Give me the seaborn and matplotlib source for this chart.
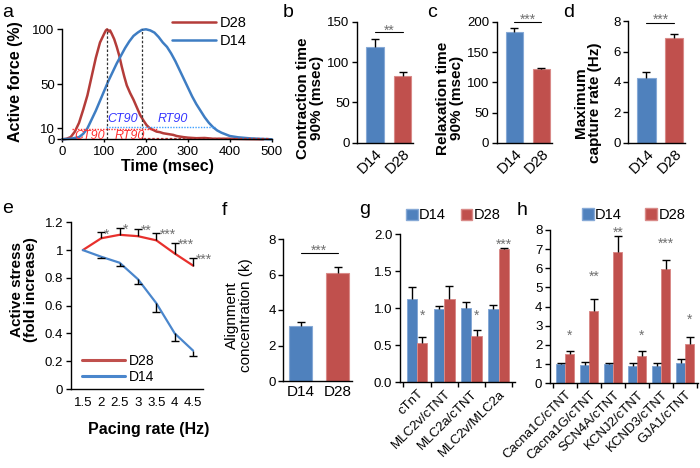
import numpy as np
import pandas as pd
import matplotlib
matplotlib.use('Agg')
import matplotlib.pyplot as plt
import seaborn as sns
from matplotlib.lines import Line2D
from matplotlib.patches import Patch
from matplotlib.ticker import FuncFormatter, FixedLocator

# ------------------------------------------------------------------ data
# panel a: normalized force traces
time_d28 = [0, 10, 20, 30, 40, 50, 60, 70, 80, 90, 100, 104, 107, 111, 114, 118, 124, 130, 136,
            142, 148, 154, 162, 170, 178, 186, 194, 201, 209, 217, 225, 233, 241, 249, 257, 265,
            273, 281, 289, 300, 320, 340, 360, 400, 440, 480]
force_d28 = [0, 0.5, 2, 7, 15, 27, 40, 57, 74, 88, 96, 99, 100, 98, 99, 96, 91, 84, 76,
             66, 57, 49, 42, 36, 29, 22, 17, 13, 10, 8.5, 7, 6.5, 5.5, 5, 4.5, 4,
             3, 2.5, 2, 1.5, 1, 1.2, 0.5, 0.5, 0.2, 0]
time_d14 = [0, 20, 40, 50, 60, 70, 80, 90, 100, 110, 120, 130, 140, 150, 160, 170, 180, 190,
            200, 210, 220, 230, 240, 250, 260, 270, 280, 290, 300, 310, 320, 330, 340, 350,
            360, 370, 380, 400, 420, 450, 480, 500]
force_d14 = [0, 0.5, 2, 5, 10, 18, 26, 35, 44, 53, 61, 69, 76, 83, 89, 94, 97, 99.5,
             100, 99, 97, 93, 88, 84, 78, 71, 63, 55, 47, 39, 32, 26, 20, 15,
             11, 8, 6, 3, 1.8, 0.8, 0.3, 0]
a_ticks_y = [0, 10, 50, 100]

days = ['D14', 'D28']
# panel b
b_vals = [119.3, 82.9]
b_err = [9.6, 5.3]
# panel c
c_vals = [183.9, 121.6]
c_err = [6.7, 2.7]
# panel d
d_vals = [4.26, 6.88]
d_err = [0.42, 0.30]
# panel f
f_vals = [3.12, 6.10]
f_err = [0.22, 0.34]

# panel e
pace = [1.5, 2, 2.5, 3, 3.5, 4, 4.5]
e_d28 = [1.0, 1.085, 1.11, 1.10, 1.07, 0.975, 0.888]
e_d28_err = [0, 0.045, 0.05, 0.055, 0.055, 0.078, 0.057]
e_d14 = [1.0, 0.952, 0.909, 0.79, 0.617, 0.40, 0.276]
e_d14_err = [0, 0.012, 0.021, 0.036, 0.065, 0.052, 0.036]
e_stars = ['', '*', '*', '**', '***', '***', '***']

# panel g
g_genes = ['cTnT', 'MLC2v/cTNT', 'MLC2a/cTNT', 'MLC2v/MLC2a']
g_d14 = [1.126, 0.99, 1.008, 0.99]
g_d14_err = [0.158, 0.04, 0.082, 0.055]
g_d28 = [0.535, 1.126, 0.626, 1.80]
g_d28_err = [0.073, 0.174, 0.081, 0.012]
g_stars = ['*', '', '*', '***']
g_star_y = [0.94, 0, 0.94, 1.91]

# panel h
h_genes = ['Cacna1C/cTNT', 'Cacna1G/cTNT', 'SCN4A/cTNT', 'KCNJ2/cTNT', 'KCND3/cTNT', 'GJA1/cTNT']
h_d14 = [0.99, 0.94, 0.99, 0.91, 0.91, 1.06]
h_d14_err = [0.05, 0.14, 0.07, 0.12, 0.12, 0.19]
h_d28 = [1.52, 3.76, 6.85, 1.43, 5.96, 2.04]
h_d28_err = [0.17, 0.61, 0.85, 0.26, 0.47, 0.35]
h_stars = ['*', '**', '**', '*', '***', '*']
h_star_y = [2.65, 5.74, 8.04, 2.65, 7.44, 3.47]

# ------------------------------------------------------------------ style
sns.set_style('ticks', {'axes.edgecolor': 'black', 'xtick.color': 'black', 'ytick.color': 'black',
                        'text.color': 'black', 'axes.labelcolor': 'black'})
plt.rcParams['font.family'] = ['Liberation Sans', 'DejaVu Sans']

BLUE = '#4f81bd'
RED = '#c0504d'
BLUE_EDGE = '#86a9d6'
RED_EDGE = '#d98a88'
STAR = '#707070'
STAR_FS = 10
STAR_DROP = -5.4
TICK_FS = 9.5
LAB_FS = 11
CAP = 2.6

fig = plt.figure(figsize=(7, 4.68), dpi=100)


def add_ax(l, r, t, b):
    return fig.add_axes([l / 700, 1 - b / 468, (r - l) / 700, (b - t) / 468])


def base_style(ax):
    for s in ['top', 'right']:
        ax.spines[s].set_visible(False)
    ax.spines['left'].set_linewidth(1.0)
    ax.spines['bottom'].set_linewidth(1.0)
    ax.tick_params(axis='y', direction='out', length=3.5, width=1, labelsize=TICK_FS, pad=2)
    ax.tick_params(axis='x', labelsize=TICK_FS)


def one_sided(ax, xs, ys, errs, up=True, capsize=CAP):
    """Error bars drawn only on one side, with a single cap at the far end."""
    if up:
        yerr = [np.zeros(len(errs)), errs]
    else:
        yerr = [errs, np.zeros(len(errs))]
    _, caps, _ = ax.errorbar(xs, ys, yerr=yerr, fmt='none', ecolor='black', elinewidth=1.0,
                             capsize=capsize, capthick=1.0, zorder=3, clip_on=False)
    if len(caps) == 2:
        caps[0 if up else 1].set_visible(False)


def bar_errors(ax, bars, errs):
    xs = [p.get_x() + p.get_width() / 2 for p in bars]
    ys = [p.get_height() for p in bars]
    one_sided(ax, xs, ys, errs, up=True)


def two_bar_panel(ax, vals, errs, ylim, yticks, sig, line_y, star_y, width=0.65, rot=True):
    sns.barplot(x=days, y=vals, hue=days, palette=[BLUE, RED], saturation=1, width=width,
                legend=False, errorbar=None, ax=ax)
    bars = sorted(ax.patches, key=lambda p: p.get_x())
    for p, ec in zip(bars, [BLUE_EDGE, RED_EDGE]):
        p.set_edgecolor(ec)
        p.set_linewidth(0.8)
    bar_errors(ax, bars, errs)
    base_style(ax)
    ax.set_ylim(*ylim)
    ax.set_yticks(yticks)
    ax.set_xlabel('')
    ax.set_ylabel('')
    ax.tick_params(axis='x', length=0, pad=3)
    ax.set_xticks([0, 1])
    if rot:
        ax.set_xticklabels(days, rotation=45, ha='right', rotation_mode='anchor', fontsize=11)
    else:
        ax.set_xticklabels(days, fontsize=11)
    ax.plot([0, 1], [line_y, line_y], color='black', lw=0.8, clip_on=False)
    ax.annotate(sig, xy=(0.5, star_y), xytext=(0, STAR_DROP), textcoords='offset points',
                ha='center', va='baseline', fontsize=STAR_FS, color=STAR, annotation_clip=False)


# ------------------------------------------------------------------ panel a
axa = add_ax(62.3, 271.7, 29.3, 139.3)
dfa = pd.concat([
    pd.DataFrame({'t': time_d28, 'f': force_d28, 'day': 'D28'}),
    pd.DataFrame({'t': time_d14, 'f': force_d14, 'day': 'D14'}),
])
sns.lineplot(data=dfa, x='t', y='f', hue='day', hue_order=['D28', 'D14'],
             palette={'D28': '#b43c39', 'D14': '#3e7dc3'}, lw=1.8, estimator=None, sort=False, ax=axa)
for ln in axa.lines:
    ln.set_clip_on(False)
axa.plot([107, 107], [0, 100], ls=(0, (2, 1.5)), color='#333333', lw=0.9)
axa.plot([190, 190], [0, 100], ls=(0, (2, 1.5)), color='#333333', lw=0.9)
axa.plot([105, 365], [11.5, 11.5], ls=(0, (1, 1)), color='#3fa0ff', lw=1.0)
axa.plot([22, 225], [9, 9], ls=(0, (1, 1)), color='#ff3030', lw=1.0)
axa.plot([193, 490], [1.2, 1.2], ls=(0, (2, 1.5)), color='#d04040', lw=0.9)
axa.text(143, 18.5, 'CT90', color='#3535ff', style='italic', ha='center', va='center', fontsize=9)
axa.text(263, 18.5, 'RT90', color='#3535ff', style='italic', ha='center', va='center', fontsize=9)
axa.text(66, 3, 'CT90', color='#ff3030', style='italic', ha='center', va='center', fontsize=9)
axa.text(161, 3, 'RT90', color='#ff3030', style='italic', ha='center', va='center', fontsize=9)
base_style(axa)
axa.set_xlim(0, 500)
axa.set_ylim(0, 100)
axa.set_yticks(a_ticks_y)
axa.set_xticks([0, 100, 200, 300, 400, 500])
axa.tick_params(axis='x', direction='out', length=2.5, width=1, pad=2)
axa.set_xlabel('Time (msec)', fontsize=11.5, fontweight='bold')
axa.set_ylabel('Active force (%)', fontsize=11.5, fontweight='bold')
axa.xaxis.set_label_coords(0.5, -0.175)
axa.yaxis.set_label_coords(-0.19, 0.52)
h, l = axa.get_legend_handles_labels()
axa.legend(h, l, frameon=False, loc='upper right', bbox_to_anchor=(247 / 700, 1 - 16 / 468),
           bbox_transform=fig.transFigure, handlelength=3.0, handletextpad=0.3, labelspacing=0.25,
           borderpad=0, borderaxespad=0, fontsize=10.5)

# ------------------------------------------------------------------ panels b, c, d
axb = add_ax(357.3, 413, 22, 142.7)
two_bar_panel(axb, b_vals, b_err, (0, 150), [0, 50, 100, 150], '**', 137, 144)
axb.set_xlim(-0.65, 1.38)
axb.set_ylabel('Contraction time\n90% (msec)', fontsize=LAB_FS, fontweight='bold', linespacing=1.0)
axb.yaxis.set_label_coords(-0.6, 0.37)

axc = add_ax(496.7, 551.7, 22, 142.7)
two_bar_panel(axc, c_vals, c_err, (0, 200), [0, 50, 100, 150, 200], '***', 200, 210)
axc.set_xlim(-0.65, 1.38)
axc.set_ylabel('Relaxation time\n90% (msec)', fontsize=LAB_FS, fontweight='bold', linespacing=1.0)
axc.yaxis.set_label_coords(-0.6, 0.37)

axd = add_ax(628.3, 685, 21.3, 142.7)
two_bar_panel(axd, d_vals, d_err, (0, 8), [0, 2, 4, 6, 8], '***', 7.9, 8.35)
axd.set_xlim(-0.65, 1.38)
axd.set_ylabel('Maximum\ncapture rate (Hz)', fontsize=LAB_FS, fontweight='bold', linespacing=1.0)
axd.yaxis.set_label_coords(-0.46, 0.33)

# ------------------------------------------------------------------ panel e
axe = add_ax(70.7, 202.7, 222.3, 389)
dfe = pd.concat([
    pd.DataFrame({'rate': pace, 'stress': e_d28, 'day': 'D28'}),
    pd.DataFrame({'rate': pace, 'stress': e_d14, 'day': 'D14'}),
])
sns.lineplot(data=dfe, x='rate', y='stress', hue='day', hue_order=['D28', 'D14'],
             palette={'D28': '#e8302c', 'D14': '#4a86cc'}, lw=1.6, estimator=None, ax=axe, legend=False)
idx = [i for i, e in enumerate(e_d28_err) if e > 0]
one_sided(axe, [pace[i] for i in idx], [e_d28[i] for i in idx], [e_d28_err[i] for i in idx], up=True)
idx = [i for i, e in enumerate(e_d14_err) if e > 0]
one_sided(axe, [pace[i] for i in idx], [e_d14[i] for i in idx], [e_d14_err[i] for i in idx], up=False)
for xv, yv, er, s in zip(pace, e_d28, e_d28_err, e_stars):
    if s:
        axe.annotate(s, xy=(xv, yv + er), xytext=(2.2, -4.6), textcoords='offset points',
                     ha='left', va='baseline', fontsize=STAR_FS, color=STAR, annotation_clip=False)
base_style(axe)
axe.set_xlim(1.17, 4.76)
axe.set_ylim(0, 1.2)
axe.set_xticks(pace)
axe.set_yticks([0, 0.2, 0.4, 0.6, 0.8, 1.0, 1.2])
fmt = FuncFormatter(lambda v, p: '%g' % round(v, 2))
axe.xaxis.set_major_formatter(fmt)
axe.yaxis.set_major_formatter(fmt)
axe.tick_params(axis='x', length=0, pad=6, labelsize=9.5)
axe.set_xlabel('Pacing rate (Hz)', fontsize=11.5, fontweight='bold')
axe.set_ylabel('Active stress\n(fold increase)', fontsize=LAB_FS, fontweight='bold', linespacing=1.0)
axe.xaxis.set_label_coords(0.593, -0.2)
axe.yaxis.set_label_coords(-0.245, 0.594)
axe.legend([Line2D([], [], color=RED, lw=2.2), Line2D([], [], color='#4a86cc', lw=2.2)],
           ['D28', 'D14'], frameon=False, loc='center left',
           bbox_to_anchor=(82 / 700, 1 - 369 / 468), bbox_transform=fig.transFigure,
           handlelength=3.1, handletextpad=0.3, labelspacing=0.15, borderpad=0, borderaxespad=0,
           fontsize=10)

# ------------------------------------------------------------------ panel f
axf = add_ax(283.3, 352.3, 239, 381)
two_bar_panel(axf, f_vals, f_err, (0, 8), [0, 2, 4, 6, 8], '***', 7.2, 7.55, width=0.62, rot=False)
axf.set_xlim(-0.47, 1.39)
axf.set_ylabel('Alignment\nconcentration (k)', fontsize=LAB_FS, linespacing=1.0)
axf.yaxis.set_label_coords(-0.44, 0.465)


# ------------------------------------------------------------------ panels g, h
def grouped_panel(ax, genes, v14, e14, v28, e28, stars, star_y, ylim, yticks, xlim, yfmt):
    df = pd.DataFrame({'gene': genes * 2, 'val': v14 + v28, 'day': ['D14'] * len(genes) + ['D28'] * len(genes)})
    sns.barplot(data=df, x='gene', y='val', hue='day', order=genes, hue_order=days,
                palette=[BLUE, RED], saturation=1, width=0.76, errorbar=None, ax=ax, legend=False)
    b14 = list(ax.containers[0])
    b28 = list(ax.containers[1])
    for p in b14:
        p.set_edgecolor(BLUE_EDGE); p.set_linewidth(0.7)
    for p in b28:
        p.set_edgecolor(RED_EDGE); p.set_linewidth(0.7)
    bar_errors(ax, b14, e14)
    bar_errors(ax, b28, e28)
    for p, s, sy in zip(b28, stars, star_y):
        if s:
            ax.annotate(s, xy=(p.get_x() + p.get_width() / 2, sy), xytext=(0, STAR_DROP),
                        textcoords='offset points', ha='center', va='baseline', fontsize=STAR_FS,
                        color=STAR, annotation_clip=False)
    base_style(ax)
    ax.set_ylim(*ylim)
    ax.set_yticks(yticks)
    ax.yaxis.set_major_formatter(FuncFormatter(lambda v, p: yfmt % v))
    ax.set_xlim(*xlim)
    ax.set_xlabel('')
    ax.set_ylabel('')
    ax.set_xticks(range(len(genes)))
    ax.set_xticklabels(genes, rotation=45, ha='right', rotation_mode='anchor', fontsize=9.5)
    ax.tick_params(axis='x', which='major', length=0, pad=4)
    ax.xaxis.set_minor_locator(FixedLocator([i - 0.5 for i in range(len(genes) + 1)]))
    ax.tick_params(axis='x', which='minor', direction='out', length=3.5, width=1)


axg = add_ax(400, 515, 234.3, 382.3)
grouped_panel(axg, g_genes, g_d14, g_d14_err, g_d28, g_d28_err, g_stars, g_star_y,
              (0, 2.0), [0, 0.5, 1.0, 1.5, 2.0], (-0.62, 3.6), '%.1f')
axg.legend([Patch(facecolor=BLUE, edgecolor=BLUE_EDGE), Patch(facecolor=RED, edgecolor=RED_EDGE)],
           days, ncol=2, frameon=False, loc='center left',
           bbox_to_anchor=(406 / 700, 1 - 215.5 / 468), bbox_transform=fig.transFigure,
           handlelength=0.8, handleheight=0.8, handletextpad=0.1, columnspacing=1.0,
           borderpad=0, borderaxespad=0, fontsize=10.5)

axh = add_ax(550, 697.7, 230, 383)
grouped_panel(axh, h_genes, h_d14, h_d14_err, h_d28, h_d28_err, h_stars, h_star_y,
              (0, 8), list(range(9)), (-0.64, 5.52), '%d')
axh.legend([Patch(facecolor=BLUE, edgecolor=BLUE_EDGE), Patch(facecolor=RED, edgecolor=RED_EDGE)],
           days, ncol=2, frameon=False, loc='center left',
           bbox_to_anchor=(582 / 700, 1 - 215 / 468), bbox_transform=fig.transFigure,
           handlelength=0.8, handleheight=0.8, handletextpad=0.1, columnspacing=1.6,
           borderpad=0, borderaxespad=0, fontsize=10.5)

# ------------------------------------------------------------------ panel letters
for letter, xp, yp in [('a', 2, 17), ('b', 283, 16.7), ('c', 427, 16.7), ('d', 563, 16.7),
                       ('e', 2, 213), ('f', 222, 215), ('g', 359, 214), ('h', 516.7, 215)]:
    fig.text(xp / 700, 1 - yp / 468, letter, fontsize=14, ha='left', va='baseline')

fig.savefig('out.png', dpi=100)
